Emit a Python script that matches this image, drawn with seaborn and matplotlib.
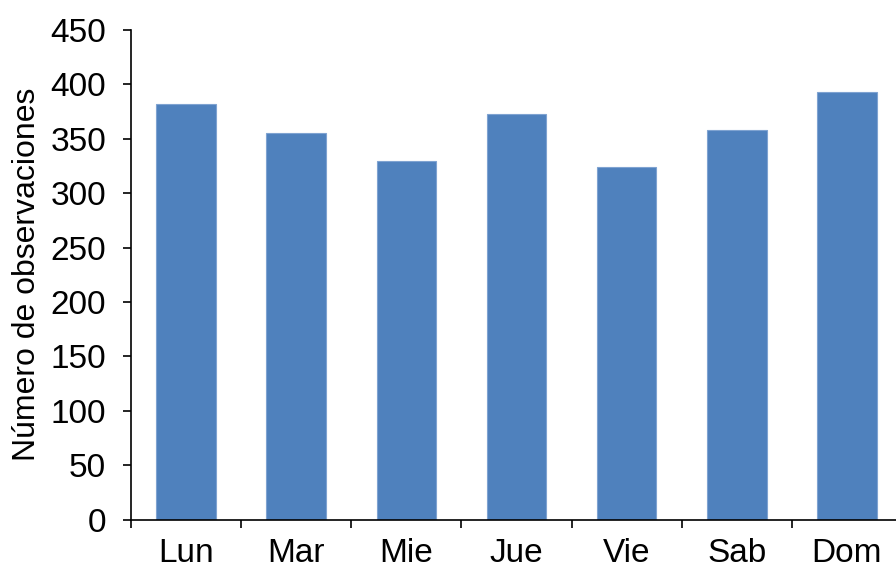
import matplotlib
matplotlib.use("Agg")
import matplotlib.pyplot as plt
import seaborn as sns
import pandas as pd

# Data
dias = ["Lun", "Mar", "Mie", "Jue", "Vie", "Sab", "Dom"]
observaciones = [382, 355, 330, 373, 324, 358, 393]

df = pd.DataFrame({"Dia": dias, "Observaciones": observaciones})

sns.set_theme(style="white")
plt.rcParams["font.family"] = ["Liberation Sans", "DejaVu Sans"]
plt.rcParams["text.color"] = "black"
plt.rcParams["axes.labelcolor"] = "black"
plt.rcParams["xtick.color"] = "black"
plt.rcParams["ytick.color"] = "black"

fig = plt.figure(figsize=(8.96, 5.69), dpi=100)
ax = fig.add_axes([131 / 896, 1 - 519.5 / 569, 771 / 896, 489.5 / 569])

sns.barplot(data=df, x="Dia", y="Observaciones", color="#4F81BD",
            width=0.54, edgecolor="#7FA3D1", linewidth=0.8, saturation=1,
            ax=ax)

ax.set_xlim(-0.5, 6.5)
ax.set_ylim(0, 450)
ax.set_yticks(range(0, 451, 50))
ax.set_xlabel("")
ax.set_ylabel("Número de observaciones", fontsize=23, labelpad=6)

# ticks between categories, labels at the bar centres
ax.set_xticks([i + 0.5 for i in range(-1, 7)])
ax.set_xticklabels([])
ax.set_xticks(range(len(dias)), minor=True)
ax.set_xticklabels(dias, minor=True)
ax.tick_params(axis="x", which="major", direction="out", length=6,
               width=1.2, color="black", bottom=True)
ax.tick_params(axis="x", which="minor", length=0, pad=13, labelsize=24)
ax.tick_params(axis="y", direction="out", length=6, width=1.2,
               color="black", left=True, labelsize=24, pad=12)

sns.despine(ax=ax)
for side in ["left", "bottom"]:
    ax.spines[side].set_color("black")
    ax.spines[side].set_linewidth(1.2)

fig.savefig("out.png", dpi=100)
